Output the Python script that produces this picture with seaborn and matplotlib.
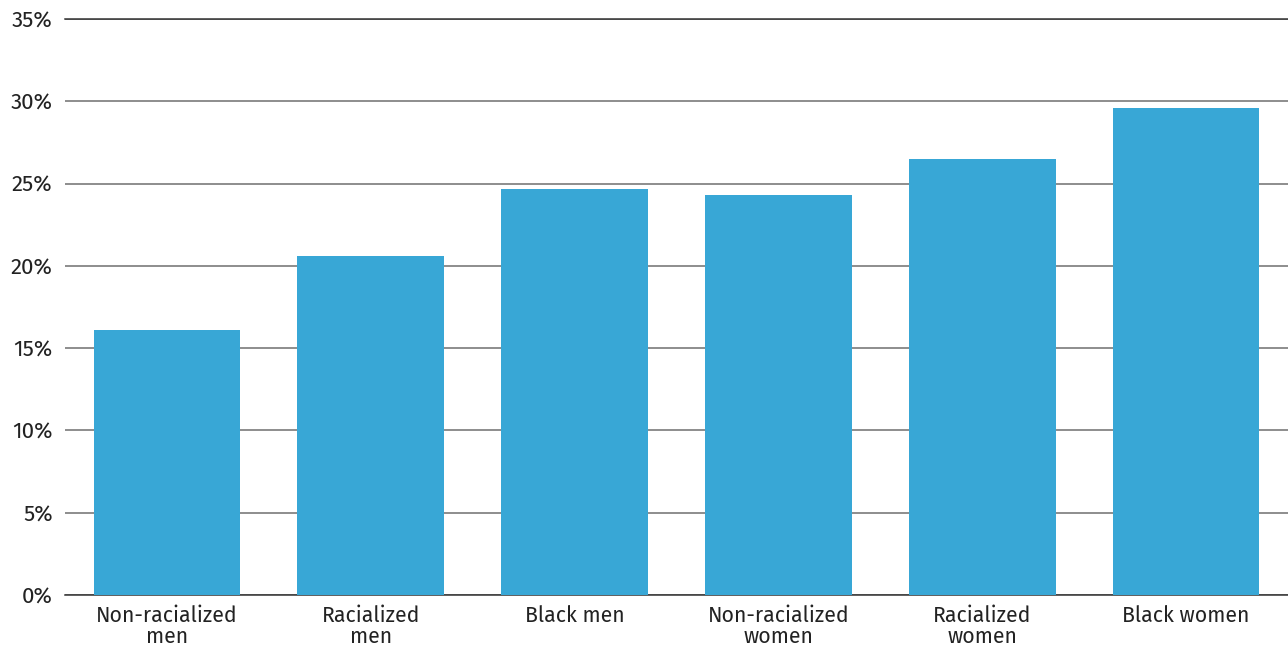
import matplotlib
matplotlib.use("Agg")
import matplotlib.pyplot as plt
import seaborn as sns
import pandas as pd

categories = ["Non-racialized\nmen", "Racialized\nmen", "Black men",
              "Non-racialized\nwomen", "Racialized\nwomen", "Black women"]
values = [16.1, 20.6, 24.7, 24.3, 26.5, 29.6]
yticks = [0, 5, 10, 15, 20, 25, 30, 35]
ytick_labels = [f"{t}%" for t in yticks]

sns.set_theme(style="white")
plt.rcParams['font.family'] = ['Fira Sans', 'Noto Sans', 'DejaVu Sans']

df = pd.DataFrame({"group": categories, "value": values})

fig = plt.figure(figsize=(12.88, 6.49), dpi=100)
ax = fig.add_axes([0.0505, 0.0832, 0.9495, 0.8875])

sns.barplot(data=df, x="group", y="value", color="#38A7D6", saturation=1,
            width=0.72, ax=ax, zorder=3, linewidth=0, edgecolor="none")

ax.set_xlim(-0.5, 5.5)
ax.set_ylim(0, 35)
ax.set_yticks(yticks)
ax.set_yticklabels(ytick_labels)
ax.set_xlabel("")
ax.set_ylabel("")
ax.yaxis.grid(True, color="#6f6f6f", linewidth=1.1, zorder=0)
ax.set_axisbelow(True)
for s in ["left", "right"]:
    ax.spines[s].set_visible(False)
ax.spines["bottom"].set_color("#333333")
ax.spines["top"].set_color("#333333")
ax.spines["bottom"].set_linewidth(1.1)
ax.spines["top"].set_linewidth(1.1)
ax.tick_params(axis="both", length=0, colors="#222222")
ax.tick_params(axis="y", pad=9, labelsize=16)
ax.tick_params(axis="x", pad=7, labelsize=15.3)
for lbl in ax.get_xticklabels():
    lbl.set_linespacing(1.0)

fig.savefig("out.png", dpi=100)
